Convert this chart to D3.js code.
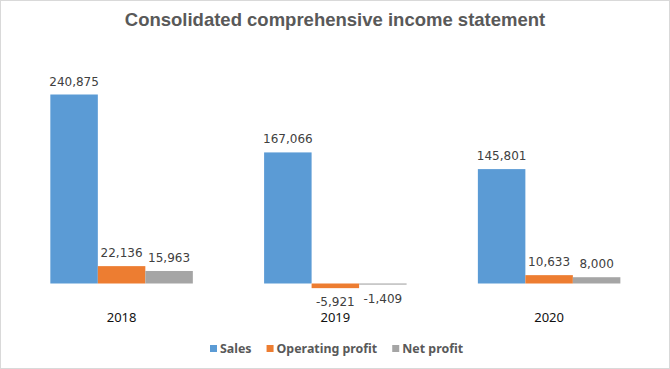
<!DOCTYPE html>
<html><head><meta charset="utf-8">
<script src="https://cdn.jsdelivr.net/npm/d3@7"></script>
<style>body{margin:0;background:#fff}svg{display:block}</style>
</head><body>
<svg id="c" width="670" height="369"></svg>
<script>
const title = "Consolidated comprehensive income statement";
const years = ["2018", "2019", "2020"];
const seriesNames = ["Sales", "Operating profit", "Net profit"];
const sales = [240875, 167066, 145801];
const operatingProfit = [22136, -5921, 10633];
const netProfit = [15963, -1409, 8000];
const colors = ["#5B9BD5", "#ED7D31", "#A5A5A5"];

const seriesValues = [sales, operatingProfit, netProfit];
const svg = d3.select("#c");
const W = 670, H = 369;

svg.append("rect").attr("x",0.5).attr("y",0.5).attr("width",W-1).attr("height",H-1)
  .attr("fill","#fff").attr("stroke","#d9d9d9");

svg.append("text").attr("x",335).attr("y",26).attr("text-anchor","middle")
  .attr("font-family","'Liberation Sans', Arial, sans-serif").attr("font-weight","bold")
  .attr("font-size",18.5).attr("fill","#595959").text(title);

const x0 = d3.scaleBand().domain(years).range([14.7, 656]).paddingInner(0).paddingOuter(0);
const groupW = 142.5;
const x1 = d3.scaleBand().domain(seriesNames).range([0, groupW]);
const y = d3.scaleLinear().domain([0, 240875]).range([283.5, 94.5]);

const data = [];
years.forEach((yr, i) => seriesNames.forEach((s, j) => data.push({yr, s, j, v: seriesValues[j][i]})));

const g = svg.append("g");
g.selectAll("rect.bar").data(data).join("rect").attr("class","bar")
  .attr("x", d => x0(d.yr) + (x0.bandwidth()-groupW)/2 + x1(d.s))
  .attr("width", x1.bandwidth())
  .attr("y", d => Math.min(y(d.v), y(0)))
  .attr("height", d => Math.max(Math.abs(y(d.v) - y(0)), 1))
  .attr("fill", d => colors[d.j]);

const fmt = d3.format(",");
g.selectAll("text.lbl").data(data).join("text").attr("class","lbl")
  .attr("x", d => x0(d.yr) + (x0.bandwidth()-groupW)/2 + x1(d.s) + x1.bandwidth()/2)
  .attr("y", d => d.v >= 0 ? y(d.v) - 9 : y(d.v) + 18)
  .attr("text-anchor","middle")
  .attr("font-family","'DejaVu Sans', sans-serif").attr("font-size",12)
  .attr("fill","#404040").text(d => fmt(d.v).replace("−","-"));

const xAxis = d3.axisBottom(x0).tickSize(0).tickPadding(0);
const ax = svg.append("g").attr("transform","translate(0,322)").call(xAxis);
ax.select(".domain").remove();
ax.selectAll("text").attr("font-family","'Noto Sans', sans-serif").attr("font-size",13)
  .attr("fill","#111").attr("dy","0");

// legend
const leg = svg.append("g").attr("font-family","'Noto Sans', sans-serif").attr("font-weight","bold")
  .attr("font-size",12.4).attr("fill","#595959");
let lx = 210;
const gaps = [15, 15, 0];
seriesNames.forEach((s, j) => {
  leg.append("rect").attr("x",lx).attr("y",345).attr("width",7).attr("height",7).attr("fill",colors[j]);
  const t = leg.append("text").attr("x",lx+10).attr("y",353).text(s);
  lx += 10 + t.node().getComputedTextLength() + gaps[j];
});
</script>
</body></html>
